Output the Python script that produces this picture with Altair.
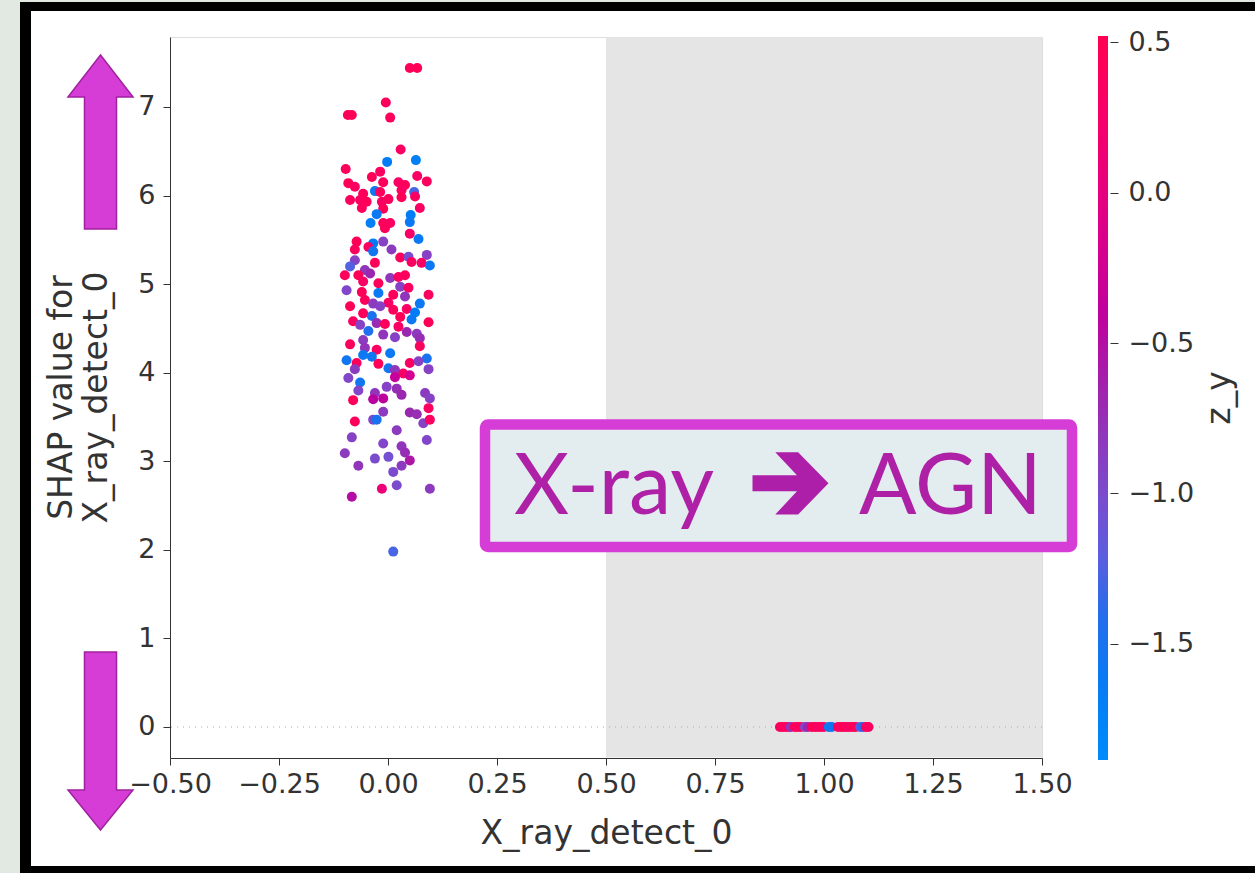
import math
import pandas as pd
import altair as alt

# ---------------- data ----------------
cluster_x = [
    0.050, 0.067, -0.005, -0.092, -0.083, 0.005, 0.029, -0.002, 0.064, -0.097,
    -0.018, -0.037, 0.067, 0.089, -0.091, -0.076, -0.011, 0.024, 0.039, 0.031,
    -0.030, -0.018, 0.060, -0.057, -0.087, -0.064, -0.049, -0.014, 0.001, 0.031,
    0.062, -0.060, -0.011, 0.073, -0.026, 0.052, -0.040, 0.050, -0.011, 0.005,
    -0.007, 0.050, 0.070, -0.072, -0.034, -0.011, -0.076, -0.045, 0.008, -0.034,
    0.028, 0.047, 0.089, -0.076, -0.030, 0.054, 0.077, 0.096, -0.087, -0.053,
    -0.041, -0.099, -0.068, 0.005, 0.024, 0.039, -0.057, -0.022, 0.028, 0.047,
    -0.095, -0.060, -0.022, 0.012, 0.039, 0.093, -0.053, -0.034, 0.001, 0.073,
    -0.087, -0.018, 0.012, 0.043, 0.062, -0.057, -0.037, 0.028, 0.054, -0.080,
    -0.064, -0.026, -0.007, 0.093, 0.024, 0.043, 0.066, -0.045, -0.011, 0.016,
    0.073, -0.057,
    -0.087, -0.053, -0.026, 0.005, -0.057, -0.037, 0.073, 0.089, -0.095, -0.072,
    -0.022, 0.050, 0.070, -0.076, 0.001, 0.016, 0.035, 0.050, 0.093, -0.091,
    0.016, -0.064, -0.003, 0.020, -0.068, -0.030, 0.085, 0.031, -0.034, -0.011,
    0.096, -0.080, 0.093, -0.011, 0.050, 0.066, -0.034, -0.026, -0.076, 0.081,
    0.096, 0.020, -0.083, -0.011, 0.089, 0.031,
    -0.099, 0.039, 0.050, -0.030, 0.001, -0.068, 0.031, 0.012, 0.020, -0.014,
    0.096, -0.083, 0.012,
]
cluster_shap = [
    7.44, 7.44, 7.05, 6.91, 6.91, 6.88, 6.52, 6.38, 6.40, 6.30,
    6.27, 6.21, 6.22, 6.16, 6.14, 6.10, 6.15, 6.15, 6.12, 6.06,
    6.05, 6.04, 6.04, 6.02, 5.95, 5.95, 5.93, 5.93, 5.96, 5.98,
    5.99, 5.86, 5.85, 5.86, 5.79, 5.78, 5.69, 5.70, 5.69, 5.69,
    5.63, 5.57, 5.51, 5.48, 5.46, 5.48, 5.39, 5.42, 5.39, 5.37,
    5.30, 5.31, 5.33, 5.27, 5.24, 5.25, 5.24, 5.21, 5.20, 5.16,
    5.12, 5.10, 5.10, 5.07, 5.08, 5.10, 5.03, 5.01, 4.97, 4.96,
    4.93, 4.91, 4.90, 4.88, 4.86, 4.88, 4.82, 4.78, 4.79, 4.78,
    4.75, 4.75, 4.71, 4.72, 4.68, 4.67, 4.64, 4.63, 4.60, 4.58,
    4.54, 4.56, 4.55, 4.57, 4.52, 4.46, 4.44, 4.47, 4.43, 4.40,
    4.39, 4.37,
    4.32, 4.28, 4.26, 4.22, 4.20, 4.18, 4.30, 4.16, 4.14, 4.11,
    4.10, 4.11, 4.13, 4.04, 4.05, 4.03, 3.99, 3.97, 4.04, 3.94,
    3.95, 3.89, 3.84, 3.82, 3.80, 3.77, 3.77, 3.75, 3.70, 3.71,
    3.71, 3.69, 3.60, 3.56, 3.55, 3.53, 3.47, 3.47, 3.45, 3.43,
    3.47, 3.35, 3.27, 3.20, 3.24, 3.17,
    3.09, 3.10, 3.01, 3.03, 3.05, 2.95, 2.95, 2.88, 2.73, 2.69,
    2.69, 2.60, 1.98,
]
cluster_zy = [
    0.45, 0.45, 0.40, 0.45, 0.45, 0.40, 0.35, -1.65, -1.70, 0.40,
    0.35, 0.45, 0.30, 0.40, 0.45, 0.35, 0.40, 0.30, 0.45, 0.35,
    -1.55, 0.40, -1.30, 0.45, 0.40, 0.35, 0.45, 0.30, 0.40, 0.45,
    0.35, 0.40, 0.45, 0.30, -1.60, -1.65, -1.70, -1.60, 0.40, 0.35,
    0.40, 0.30, -1.60, 0.45, -1.65, -0.90, 0.40, 0.35, -0.85, -1.55,
    0.40, -1.00, -0.90, -0.90, 0.45, 0.35, 0.30, -1.60, -1.25, -0.80,
    -0.70, 0.40, 0.45, -0.80, 0.35, 0.40, 0.30, 0.40, -0.90, 0.35,
    -0.95, 0.45, -1.60, 0.40, -0.80, 0.35, 0.40, -0.85, 0.30, -1.60,
    0.45, -0.90, 0.40, 0.35, -1.65, 0.40, -1.50, 0.45, -1.60, 0.35,
    -0.90, -0.75, 0.40, 0.45, 0.30, -0.70, -0.85, -1.45, -0.80, -0.90,
    -0.75, -0.85,
    0.40, -0.80, 0.35, -1.60, -1.60, -1.55, 0.40, -1.50, -1.55, 0.40,
    0.45, 0.35, -0.90, -0.85, -1.55, -0.80, 0.30, -0.20, -0.90, -0.95,
    -0.35, -1.55, -0.90, -0.75, -0.95, -0.80, -0.85, -0.70, -0.45, -0.40,
    -0.90, 0.40, 0.35, -0.85, -0.70, -0.75, -0.95, -1.50, 0.40, -0.90,
    0.35, -0.85, -0.90, -0.95, -0.95, -0.80,
    -0.85, -0.75, -0.55, -1.00, -1.05, -0.80, -0.85, -1.00, -1.00, 0.10,
    -0.85, -0.50, -1.30,
]
zero_x = [0.899, 0.906, 0.913, 0.920, 0.924, 0.933, 0.940, 0.947, 0.956, 0.963,
          0.972, 0.979, 0.986, 0.993, 1.000, 1.011, 1.018, 1.032, 1.039, 1.046,
          1.053, 1.060, 1.067, 1.073, 1.083, 1.089, 1.096, 1.102]
zero_shap = [0.0, 0.0, 0.0, 0.0, 0.0, 0.0, 0.0, 0.0, 0.0, 0.0,
             0.0, 0.0, 0.0, 0.0, 0.0, 0.0, 0.0, 0.0, 0.0, 0.0,
             0.0, 0.0, 0.0, 0.0, 0.0, 0.0, 0.0, 0.0]
zero_zy = [0.40, 0.35, 0.45, 0.30, -0.80, 0.40, 0.35, 0.45, -0.90, -0.70,
           0.40, 0.45, 0.35, 0.40, 0.30, -1.60, -1.55, 0.40, 0.35, 0.45,
           0.40, 0.30, 0.45, 0.40, -1.20, -1.40, 0.40, 0.35]

x_ticks = [-0.5, -0.25, 0.0, 0.25, 0.5, 0.75, 1.0, 1.25, 1.5]
y_ticks = [0, 1, 2, 3, 4, 5, 6, 7]
cbar_ticks = [-1.5, -1.0, -0.5, 0.0, 0.5]
span_x = [0.5]
span_x2 = [1.5]
zy_min, zy_max = -1.885, 0.52

# ---------------- shap red_blue colormap (LCH) ----------------
def lch_to_hex(L, C, h):
    a = C * math.cos(h)
    b = C * math.sin(h)
    fy = (L + 16) / 116
    fx = fy + a / 500
    fz = fy - b / 200

    def finv(t):
        return t ** 3 if t ** 3 > 0.008856 else (t - 16 / 116) / 7.787

    X = 0.95047 * finv(fx)
    Y = finv(fy)
    Z = 1.08883 * finv(fz)
    r = 3.2406 * X - 1.5372 * Y - 0.4986 * Z
    g = -0.9689 * X + 1.8758 * Y + 0.0415 * Z
    bb = 0.0557 * X - 0.2040 * Y + 1.0570 * Z

    def gam(c):
        c = max(0.0, min(1.0, c))
        return 12.92 * c if c <= 0.0031308 else 1.055 * c ** (1 / 2.4) - 0.055

    return "#%02x%02x%02x" % tuple(int(round(gam(c) * 255)) for c in (r, g, bb))

blue_lch = (54.0, 70.0, 4.6588)
red_lch = (54.0, 90.0, 0.35470565 + 2 * math.pi)
l_mid = 40.0
nstops = 11
cmap_colors, cmap_domain = [], []
for i in range(nstops):
    t = i / (nstops - 1)
    L = blue_lch[0] + (l_mid - blue_lch[0]) * (t / 0.5) if t <= 0.5 else l_mid + (red_lch[0] - l_mid) * ((t - 0.5) / 0.5)
    C = blue_lch[1] + (red_lch[1] - blue_lch[1]) * t
    Hh = blue_lch[2] + (red_lch[2] - blue_lch[2]) * t
    cmap_colors.append(lch_to_hex(L, C, Hh))
    cmap_domain.append(zy_min + (zy_max - zy_min) * t)

# ---------------- layout constants (pixels) ----------------
W, H = 872, 721
PL, PT, PR, PB = 170, 37, 213, 115
TXT = "#333333"
FONT = "DejaVu Sans"

pts = pd.DataFrame({
    "x": zero_x + cluster_x,
    "shap": zero_shap + cluster_shap,
    "zy": zero_zy + cluster_zy,
})
one = pd.DataFrame({"k": [0]})

minus = "'\u2212'"
x_scale = alt.Scale(domain=[-0.5, 1.5], nice=False, zero=False)
y_scale = alt.Scale(domain=[-0.35, 7.79], nice=False, zero=False)
x_axis = alt.Axis(
    values=x_ticks, labelExpr=f"replace(format(datum.value, '.2f'), '-', {minus})",
    grid=False, tickSize=7, labelPadding=6, labelFontSize=27, labelColor=TXT,
    labelFlush=False, labelOverlap=False, domainColor=TXT, tickColor=TXT,
    title="X_ray_detect_0", titleFontSize=33, titleFontWeight="normal", titleColor=TXT,
    titleY=75, titleBaseline="middle", labelFont=FONT, titleFont=FONT,
)
y_axis = alt.Axis(
    values=y_ticks, format="d", grid=False, tickSize=7, labelPadding=8,
    labelFontSize=27, labelColor=TXT, labelFlush=False, labelOverlap=False,
    domainColor=TXT, tickColor=TXT, orient="left",
    title=["SHAP value for", "X_ray_detect_0"], titleFontSize=33,
    titleFontWeight="normal", titleColor=TXT, titleAngle=270, titleX=-109,
    titleY=360, titleAlign="center", titleBaseline="middle", titleLineHeight=35,
    labelFont=FONT, titleFont=FONT,
)

span = alt.Chart(pd.DataFrame({"a": span_x, "b": span_x2})).mark_rect(color="#e5e5e5").encode(
    x=alt.X("a:Q", scale=x_scale, axis=x_axis), x2="b:Q",
    y=alt.value(0), y2=alt.value(720.5),
)
zero_line = alt.Chart(pd.DataFrame({"v": [0.0]})).mark_rule(
    color="#aaaaaa", strokeWidth=1, strokeDash=[1, 5]
).encode(y=alt.Y("v:Q", scale=y_scale, axis=y_axis))
points = alt.Chart(pts).mark_circle(size=100, opacity=1).encode(
    x=alt.X("x:Q", scale=x_scale, axis=x_axis),
    y=alt.Y("shap:Q", scale=y_scale, axis=y_axis),
    color=alt.Color(
        "zy:Q",
        scale=alt.Scale(domain=cmap_domain, range=cmap_colors),
        legend=alt.Legend(
            orient="none", legendX=928, legendY=-1, direction="vertical",
            gradientLength=724, gradientThickness=10, gradientStrokeWidth=0,
            title=None, labelExpr="''", padding=0,
        ),
    ),
)
main = alt.layer(span, zero_line, points)

cbar_axis = alt.Chart(pd.DataFrame({"v": cbar_ticks})).mark_point(opacity=0).encode(
    y=alt.Y("v:Q", scale=alt.Scale(domain=[-1.879, 0.517], nice=False, zero=False),
            axis=alt.Axis(orient="right", offset=68, values=cbar_ticks, domain=False,
                          grid=False, tickSize=8, tickColor=TXT, labelPadding=10,
                          labelFontSize=27, labelColor=TXT, labelFont=FONT,
                          labelFlush=False, labelOverlap=False, title=None,
                          labelExpr=f"replace(format(datum.value, '.1f'), '-', {minus})"))
)

def rect(x, x2, y, y2, **kw):
    return alt.Chart(one).mark_rect(**kw).encode(
        x=alt.value(x), x2=alt.value(x2), y=alt.value(y), y2=alt.value(y2))

def text(s, x, y, **kw):
    return alt.Chart(one).mark_text(text=s, **kw).encode(x=alt.value(x), y=alt.value(y))

# slide frame
frame = [
    rect(-PL, -150, -PT, H + PB, color="#e2e8e2"),
    rect(-150, W + PR, -PT, -35, color="#e2e8e2"),
    rect(-150, -139, -35, H + PB, color="#000000"),
    rect(-150, W + PR, -35, -26, color="#000000"),
    rect(-150, W + PR, 829, H + PB, color="#000000"),
]

zy_title = text("z_y", 1050, 361, angle=270, fontSize=33, font=FONT, color=TXT,
                align="center", baseline="middle")

box = rect(315, 902, 387.5, 510, fill="#e3ecef", stroke="#d63cd6", strokeWidth=10.5,
           cornerRadius=3)
label_left = text("X-ray", 344, 477, fontSize=85, font="Lato", color="#ae20a6",
                  align="left", baseline="alphabetic")
label_right = text("AGN", 689, 477, fontSize=85, font="Lato", color="#ae20a6",
                   align="left", baseline="alphabetic")
arrow_path = "M-1,-0.21 L0.17,-0.21 L-0.4,-0.82 L0.2,-0.82 L1,0 L0.2,0.82 L-0.4,0.82 L0.17,0.21 L-1,0.21 Z"
arrow_mid = alt.Chart(one).mark_point(shape=arrow_path, size=76 * 76, filled=True,
                                      color="#ad1fa8", opacity=1, strokeWidth=0).encode(
    x=alt.value(620.5), y=alt.value(446.3))

up_path = "M0,-1 L0.374,-0.517 L0.184,-0.517 L0.184,1 L-0.184,1 L-0.184,-0.517 L-0.374,-0.517 Z"
down_path = "M0,1 L0.365,0.551 L0.18,0.551 L0.18,-1 L-0.18,-1 L-0.18,0.551 L-0.365,0.551 Z"
up_arrow = alt.Chart(one).mark_point(shape=up_path, size=174 * 174, filled=True,
                                     fill="#d63cd6", stroke="#a0229f", strokeWidth=1.5,
                                     opacity=1).encode(x=alt.value(-69.5), y=alt.value(105))
down_arrow = alt.Chart(one).mark_point(shape=down_path, size=178 * 178, filled=True,
                                       fill="#d63cd6", stroke="#a0229f", strokeWidth=1.5,
                                       opacity=1).encode(x=alt.value(-69.5), y=alt.value(704))

chart = alt.layer(
    *frame, main, cbar_axis, zy_title, box, label_left, arrow_mid, label_right,
    up_arrow, down_arrow,
).resolve_scale(y="independent").properties(
    width=W, height=H,
    autosize=alt.AutoSizeParams(type="none"),
    padding={"left": PL, "top": PT, "right": PR, "bottom": PB},
    background="#ffffff",
).configure_view(strokeWidth=0).configure(font=FONT)

chart.save("out.html", embed_options={"renderer": "svg", "actions": False})
